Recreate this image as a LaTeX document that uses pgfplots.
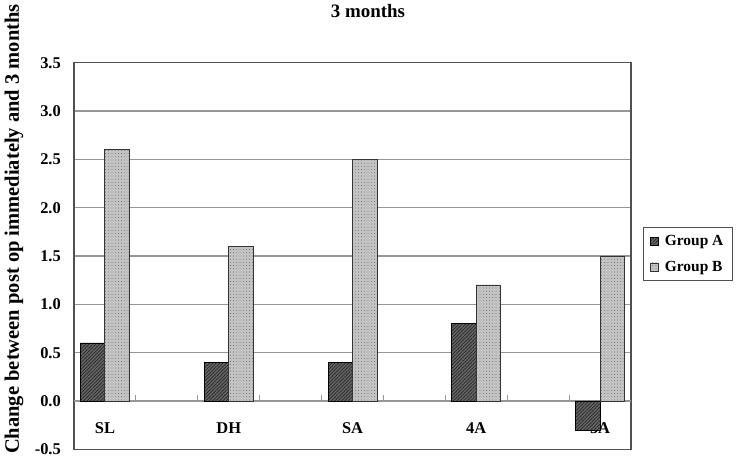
\documentclass[border=0pt]{standalone}
\usepackage{fontspec}
\setmainfont{Liberation Serif}
\usepackage{pgfplots}
\pgfplotsset{compat=1.18}
\usetikzlibrary{patterns.meta}
\definecolor{boxgray}{RGB}{80,80,80}
\definecolor{gridgray}{RGB}{150,150,150}

\pgfplotstableread{
x  A     B
0  0.6   2.6
1  0.4   1.6
2  0.4   2.5
3  0.8   1.2
4  -0.3  1.5
}\scores

\begin{document}
\begin{tikzpicture}[x=1bp,y=1bp]
\begin{axis}[
  at={(74bp,-449.3bp)}, anchor=south west,
  scale only axis, width=557bp, height=386.6bp,
  set layers=standard,
  xmin=-0.25, xmax=4.25, ymin=-0.5, ymax=3.5,
  xtick=\empty,
  ytick={-0.5,0,0.5,1,1.5,2,2.5,3,3.5},
  yticklabels={-0.5,0.0,0.5,1.0,1.5,2.0,2.5,3.0,3.5},
  yticklabel style={font=\fontsize{16.5}{18}\selectfont\bfseries, inner sep=0pt, xshift=-13bp},
  major tick length=0pt,
  ymajorgrids, grid style={gridgray, line width=1.3bp},
  axis line style={boxgray, line width=1.5bp},
  ybar=0pt, bar width=24.5bp,
  legend style={at={(1.0215,0.574)}, anchor=north west, draw=boxgray, line width=0.8bp,
    font=\fontsize{15.5}{17}\selectfont\bfseries, inner xsep=7bp, inner ysep=5.5bp,
    row sep=10bp, cells={anchor=west},
    /tikz/every odd column/.append style={column sep=4bp}},
  legend image code/.code={\draw[#1, line width=0.5bp] (0bp,-4bp) rectangle (8bp,4bp);},
]
\draw[gridgray, line width=1.6bp] (axis cs:-0.25,0) -- (axis cs:4.25,0);
\pgfplotsinvokeforeach{0.25,0.75,1.25,1.75,2.25,2.75,3.25,3.75}{
  \draw[gridgray, line width=1bp] (axis cs:#1,0) -- ([yshift=5.5bp]axis cs:#1,0);
}
\begin{pgfonlayer}{axis background}
\node[font=\fontsize{16.5}{18}\selectfont\bfseries] at (axis cs:0,-0.277) {SL};
\node[font=\fontsize{16.5}{18}\selectfont\bfseries] at (axis cs:1,-0.277) {DH};
\node[font=\fontsize{16.5}{18}\selectfont\bfseries] at (axis cs:2,-0.277) {SA};
\node[font=\fontsize{16.5}{18}\selectfont\bfseries] at (axis cs:3,-0.277) {4A};
\node[font=\fontsize{16.5}{18}\selectfont\bfseries] at (axis cs:4,-0.277) {5A};
\end{pgfonlayer}
\addplot[draw=black, line width=0.9bp, fill=black!60,
  postaction={pattern={Lines[angle=45, distance=2.4bp, line width=0.7bp]}, pattern color=black!85}]
  table[x=x, y=A] {\scores};
\addlegendentry{Group A}
\addplot[draw=black!80, line width=0.9bp, fill=black!23,
  postaction={pattern={Dots[distance=3.2bp, radius=0.45bp]}, pattern color=black!70}]
  table[x=x, y=B] {\scores};
\addlegendentry{Group B}
\end{axis}
\node[font=\fontsize{19}{21}\selectfont\bfseries] at (368,-11) {3 months};
\node[font=\fontsize{20.6}{22}\selectfont\bfseries, rotate=90] at (14,-229)
  {Change between post op immediately and 3 months};
\path (0,0) rectangle (740,-464);
\end{tikzpicture}
\end{document}
